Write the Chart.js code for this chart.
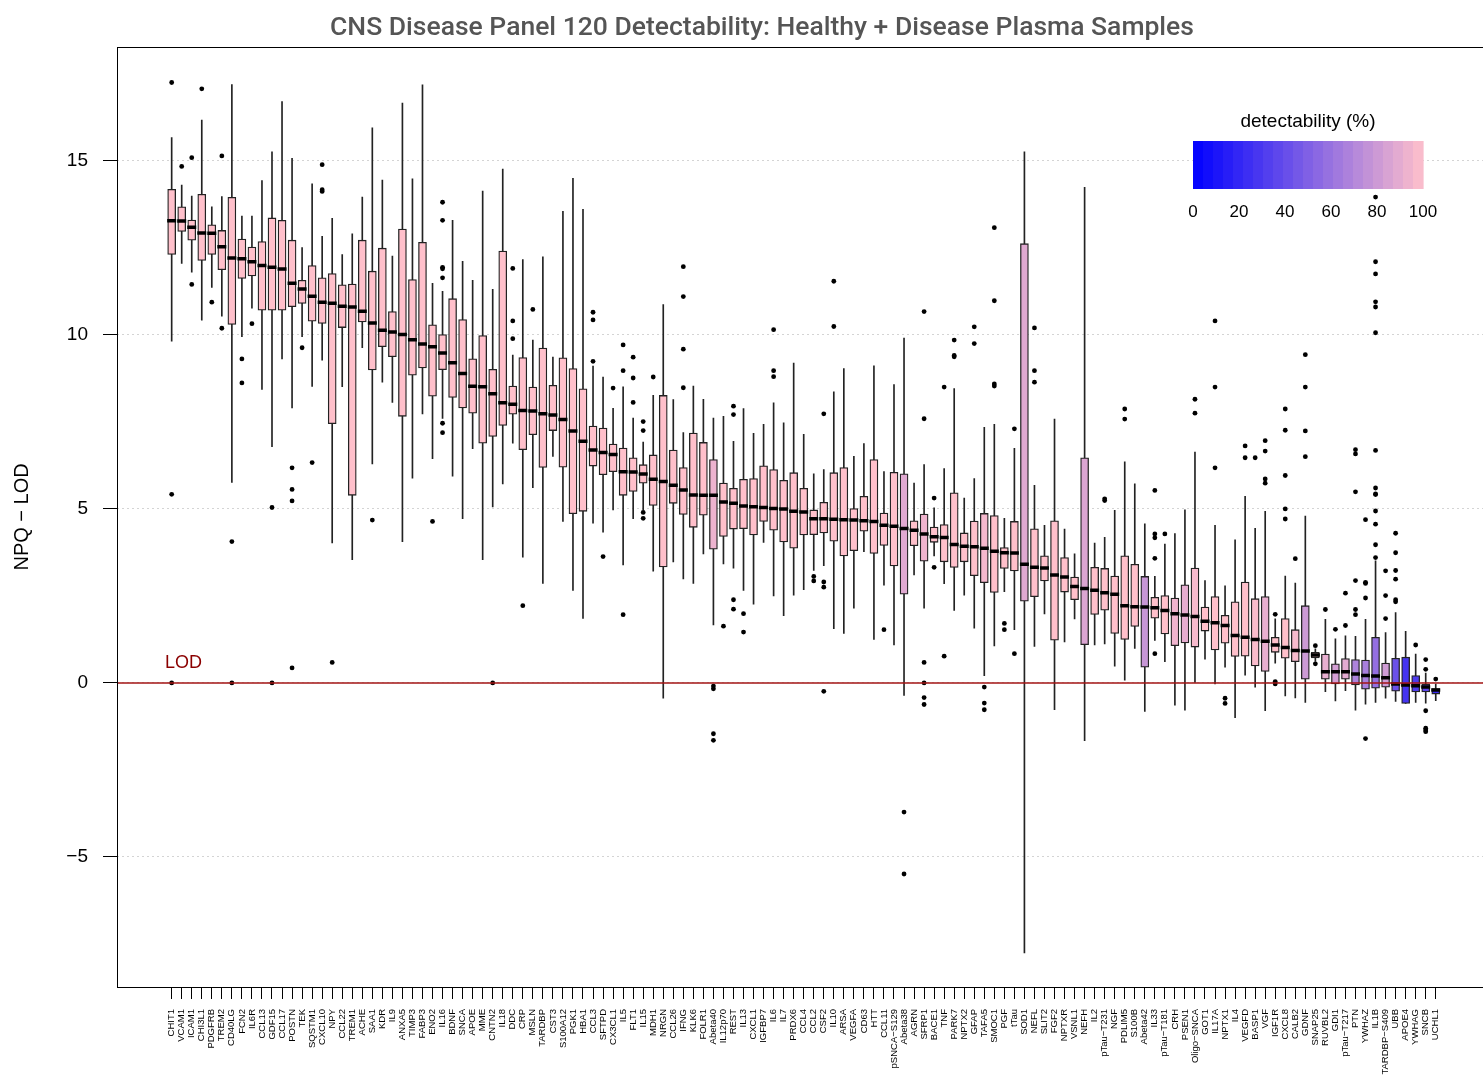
<!DOCTYPE html>
<html>
<head>
<meta charset="utf-8">
<script src="https://cdn.jsdelivr.net/npm/chart.js@4.4.1/dist/chart.umd.min.js"></script>
<style>
  html, body { margin: 0; padding: 0; background: #fff; overflow: hidden; }
</style>
</head>
<body>
<canvas id="cns-chart" width="1524" height="1076"></canvas>
<script>
// panel targets, in plot order (sorted by median)
var categories = [
  'CHIT1','VCAM1','ICAM1','CHI3L1','PDGFRB','TREM2','CD40LG','FCN2','IL6R','CCL13','GDF15','CCL17','POSTN','TEK','SQSTM1','CXCL10',
  'NPY','CCL22','TREM1','ACHE','SAA1','KDR','IL9','ANXA5','TIMP3','FABP3','ENO2','IL16','BDNF','SNCA','APOE','MME',
  'CNTN2','IL18','DDC','CRP','MSLN','TARDBP','CST3','S100A12','PGK1','HBA1','CCL3','SFTPD','CX3CL1','IL5','FLT1','IL15',
  'MDH1','NRGN','CCL26','IFNG','KLK6','FOLR1','Abeta40','IL12p70','REST','IL13','CXCL1','IGFBP7','IL6','IL7','PRDX6','CCL4',
  'CCL2','CSF2','IL10','ARSA','VEGFA','CD63','HTT','CCL11','pSNCA-S129','Abeta38','AGRN','SFRP1','BACE1','TNF','PARK7','NPTX2',
  'GFAP','TAFA5','SMOC1','PGF','tTau','SOD1','NEFL','SLIT2','FGF2','NPTXR','VSNL1','NEFH','IL2','pTau-T231','NGF','PDLIM5',
  'S100B','Abeta42','IL33','pTau-T181','CRH','PSEN1','Oligo-SNCA','GOT1','IL17A','NPTX1','IL4','VEGFD','BASP1','VGF','IGF1R','CXCL8',
  'CALB2','GDNF','SNAP25','RUVBL2','GDI1','pTau-T217','PTN','YWHAZ','IL1B','TARDBP-S409','UBB','APOE4','YWHAG','SNCB','UCHL1'
];

var whiskerLow = [
  9.82,12.05,11.80,10.42,11.36,10.54,5.76,9.95,10.77,8.43,6.79,9.31,7.90,9.95,8.52,9.27,
  4.02,8.51,3.54,9.63,6.29,8.64,8.06,4.06,5.88,7.73,6.44,7.60,5.94,4.72,6.73,3.54,
  5.06,5.72,6.89,3.61,5.61,2.86,6.51,4.64,2.66,1.85,4.59,4.33,4.97,3.39,4.72,4.97,
  3.21,-0.44,3.48,2.99,2.86,3.71,1.67,3.42,3.30,2.66,2.26,4.04,2.50,1.93,2.52,2.68,
  3.23,3.37,1.56,1.42,2.15,3.77,1.25,2.81,1.09,-0.36,3.10,2.15,3.65,2.85,2.08,2.52,
  1.57,0.21,1.06,2.62,1.53,-7.76,1.05,1.98,-0.77,1.18,1.84,-1.66,1.09,1.12,0.48,0.08,
  0.99,-0.82,1.22,0.61,-0.64,-0.78,0.00,0.68,-0.03,0.45,-1.00,0.22,-0.12,-0.80,0.57,-0.37,
  -0.43,-0.56,0.62,-0.25,-0.52,-0.22,-0.78,-0.61,-0.56,-0.44,-0.53,-0.59,-0.56,-0.58,-0.51
];
var q1 = [
  12.31,12.97,12.72,12.14,12.31,11.87,10.30,11.62,11.69,10.71,10.71,10.71,10.81,10.90,10.39,10.33,
  7.45,10.21,5.39,10.37,8.99,9.66,9.37,7.66,8.84,9.05,8.24,9.00,8.20,7.90,7.75,6.89,
  7.08,7.40,7.72,6.70,7.13,6.19,7.25,6.20,4.86,4.93,6.23,5.98,6.07,5.39,5.50,5.74,
  5.10,3.33,5.16,4.84,4.47,4.82,3.84,4.21,4.42,4.43,4.25,4.64,4.39,4.05,3.87,4.25,
  4.26,4.31,4.07,3.65,3.80,4.36,3.72,3.95,3.36,2.55,3.94,3.50,4.04,3.48,3.32,3.48,
  3.08,2.88,2.60,3.29,3.22,2.35,2.48,2.93,1.23,2.61,2.39,1.10,1.97,2.09,1.42,1.25,
  1.62,0.45,1.86,1.41,1.07,1.15,1.03,1.49,0.95,1.14,0.76,0.77,0.49,0.33,0.88,0.71,
  0.61,0.11,0.72,0.11,-0.03,0.11,-0.06,-0.18,-0.15,-0.12,-0.24,-0.59,-0.26,-0.26,-0.32
];
var median = [
  13.28,13.27,13.09,12.93,12.92,12.53,12.21,12.19,12.10,11.99,11.94,11.89,11.48,11.32,11.11,10.94,
  10.91,10.82,10.80,10.68,10.34,10.13,10.08,10.01,9.86,9.74,9.66,9.48,9.20,8.89,8.52,8.51,
  8.31,8.05,8.01,7.83,7.81,7.73,7.70,7.57,7.24,6.94,6.69,6.62,6.56,6.07,6.06,6.00,
  5.85,5.79,5.68,5.54,5.40,5.39,5.39,5.20,5.16,5.08,5.06,5.04,5.01,5.00,4.93,4.91,
  4.72,4.72,4.70,4.69,4.68,4.66,4.64,4.53,4.50,4.44,4.39,4.28,4.20,4.18,3.98,3.93,
  3.91,3.87,3.78,3.74,3.73,3.41,3.32,3.30,3.10,3.04,2.77,2.71,2.66,2.59,2.55,2.22,
  2.19,2.18,2.16,2.08,1.99,1.95,1.91,1.77,1.73,1.65,1.36,1.31,1.25,1.20,1.09,1.02,
  0.93,0.92,0.80,0.32,0.32,0.32,0.26,0.21,0.20,0.15,-0.03,-0.06,-0.08,-0.12,-0.20
];
var q3 = [
  14.18,13.68,13.30,14.04,13.16,13.00,13.95,12.75,12.52,12.68,13.36,13.29,12.72,11.57,11.99,11.64,
  11.76,11.44,11.46,12.72,11.83,12.49,10.67,13.04,11.59,12.66,10.29,10.01,11.04,10.44,9.31,9.98,
  9.01,12.41,8.53,9.35,8.50,9.62,8.55,9.34,9.03,8.45,7.38,7.32,6.86,6.75,6.47,6.27,
  6.55,8.26,6.69,6.19,7.18,6.91,6.42,5.74,5.59,5.85,5.87,6.24,6.13,5.82,6.04,5.59,
  4.97,5.19,6.04,6.19,5.01,5.36,6.42,4.88,6.05,6.01,4.66,4.85,4.48,4.55,5.46,4.31,
  4.65,4.87,4.81,3.89,4.64,12.62,4.43,3.65,4.66,3.60,3.04,6.47,3.32,3.29,3.07,3.65,
  3.41,3.06,2.46,2.51,2.44,2.82,3.30,2.18,2.48,1.94,2.33,2.90,2.42,2.48,1.31,1.85,
  1.53,2.22,0.88,0.83,0.55,0.70,0.67,0.66,1.31,0.57,0.71,0.74,0.21,-0.03,-0.16
];
var whiskerHigh = [
  15.67,14.30,13.99,16.17,13.68,13.97,17.19,13.41,13.41,14.43,15.26,16.70,15.07,12.51,14.34,12.83,
  13.35,12.31,12.90,13.96,15.95,14.45,12.26,16.66,14.48,17.18,11.48,11.25,13.29,12.11,11.57,14.13,
  11.31,14.76,9.42,12.16,9.85,12.24,9.36,13.55,14.50,13.61,9.10,8.79,7.89,8.51,7.61,6.92,
  8.26,10.87,8.14,7.19,8.53,8.15,7.61,7.66,6.94,7.88,7.17,7.43,8.05,7.47,9.19,7.14,
  6.01,6.13,8.36,9.03,6.51,6.88,9.11,6.07,8.57,9.91,5.74,6.27,5.03,6.16,8.46,5.31,
  5.87,7.34,7.43,4.73,6.74,15.26,5.68,4.53,7.58,4.42,3.71,14.24,4.02,4.18,4.96,6.35,
  5.72,4.57,3.06,3.99,4.29,4.97,6.63,2.94,4.53,2.79,4.11,5.36,4.44,4.93,1.84,3.07,
  2.87,4.79,0.98,1.83,1.27,1.35,1.34,1.83,3.51,1.45,2.02,1.48,0.83,0.28,-0.03
];

// share of samples above LOD (%)
var detectability = [
  100,100,100,100,100,100,100,100,100,100,100,100,100,100,100,100,
  100,100,100,100,100,100,100,100,100,100,100,100,100,100,100,100,
  100,100,100,100,100,100,100,100,100,100,100,100,100,100,100,100,
  100,100,100,100,100,100,93,100,100,100,100,100,100,100,100,100,
  100,100,100,100,100,100,100,100,100,88,100,94,100,100,100,100,
  100,96,100,100,100,88,100,100,100,100,100,86,100,100,100,100,
  100,78,100,100,94,90,97,100,100,100,100,100,98,91,100,100,
  97,80,100,91,83,89,68,66,58,81,42,27,31,36,22
];

var outliers = [
  [17.25,5.42,0],[14.84],[15.09,11.45],[17.07],[10.94],[15.14,10.19],[4.06,0],[9.31,8.62],[10.32],[],[5.04,0],[],[6.18,5.56,5.23,0.43],[9.63],[6.33],[14.89,14.17,14.12],
  [0.59],[],[],[],[4.68],[],[],[],[],[],[4.64],[13.81,13.29,11.94,11.90,11.64,7.46,7.19],[],[],[],[],
  [0],[],[11.91,10.40,9.89],[2.22],[10.73],[],[],[],[],[],[10.65,10.43,9.24],[3.63],[8.47],[9.71,8.97,1.96],[9.36,8.76,8.06],[7.51,7.25,4.90,4.73],
  [8.79],[],[],[11.96,11.10,9.59,8.48],[],[],[-0.09,-0.17,-1.46,-1.65],[1.63],[7.95,7.71,2.39,2.12],[1.99,1.46],[],[],[10.15,8.97,8.80],[],[],[],
  [3.06,2.93],[7.73,2.90,2.75,-0.24],[11.54,10.24],[],[],[],[],[1.53],[],[-3.71,-5.49],[],[10.67,7.59,0.59,0,-0.42,-0.62],[5.31,3.32],[8.50,0.77],[9.85,9.41,9.37],[],
  [10.23,9.75],[-0.12,-0.58,-0.77],[13.08,10.98,8.59,8.53],[1.71,1.53],[7.30,0.84],[],[10.20,8.97,8.64],[],[],[],[],[],[],[5.29,5.24],[],[7.87,7.58],
  [],[],[5.53,4.28,4.17,3.58,0.84],[4.28],[],[],[8.15,7.75],[],[10.40,8.50,6.18],[-0.44,-0.59],[],[6.81,6.47],[6.47],[6.96,6.66,5.86,5.74],[1.97,0.04,-0.03],[7.87,7.26,5.96,5.00,4.71],
  [3.57],[9.43,8.50,7.24,6.50],[1.07,0.55],[2.11],[1.54],[2.58,1.65],[6.70,6.58,5.49,2.94,2.11,1.96],[4.69,2.89,2.86,2.44,-1.60],
  [13.96,12.10,11.75,10.95,10.80,10.06,6.68,5.60,5.43,5.41,4.94,4.56,3.97,3.60],[3.22,2.51,1.85],[4.30,3.74,3.23,2.98,2.39,2.33],[],[1.09],[0.67,0.39,-0.80,-1.30,-1.35,-1.40],[0.11]
];

var yTicks = [-5, 0, 5, 10, 15];
var legendTicks = [0, 20, 40, 60, 80, 100];

// blue (0%) -> pink (100%)
function detColor(d) {
  var t = d / 100;
  return 'rgb(' + Math.round(255 * t) + ',' + Math.round(192 * t) + ',' + Math.round(255 - 52 * t) + ')';
}

var whiskerData = categories.map(function (c, i) { return { x: i, y: [whiskerLow[i], whiskerHigh[i]] }; });
var boxData = categories.map(function (c, i) { return { x: i, y: [q1[i], q3[i]] }; });
var medianData = categories.map(function (c, i) { return { x: i, y: median[i] }; });
var outlierData = [];
outliers.forEach(function (list, i) {
  list.forEach(function (v) { outlierData.push({ x: i, y: v }); });
});

var plotFrame = {
  id: 'plotFrame',
  afterDraw: function (chart) {
    var a = chart.chartArea, c = chart.ctx;
    c.save();
    c.strokeStyle = '#000';
    c.lineWidth = 1;
    c.strokeRect(Math.round(a.left) + 0.5, Math.round(a.top) + 0.5, Math.round(a.right - a.left), Math.round(a.bottom - a.top));
    c.restore();
  }
};

var lodLine = {
  id: 'lodLine',
  afterDatasetsDraw: function (chart) {
    var a = chart.chartArea, c = chart.ctx;
    var y = chart.scales.y.getPixelForValue(0);
    c.save();
    c.strokeStyle = '#a31515';
    c.lineWidth = 1.5;
    c.beginPath();
    c.moveTo(a.left, y);
    c.lineTo(a.right, y);
    c.stroke();
    c.fillStyle = '#8b0000';
    c.font = '18px "Liberation Sans", Arial, sans-serif';
    c.textBaseline = 'middle';
    c.fillText('LOD', 165, y - 20);
    c.restore();
  }
};

var detLegend = {
  id: 'detLegend',
  afterDraw: function (chart) {
    var c = chart.ctx;
    var x0 = 1193, x1 = 1423, top = 141, h = 48, steps = 23;
    var w = (x1 - x0) / steps;
    c.save();
    for (var s = 0; s < steps; s++) {
      c.fillStyle = detColor(100 * (s + 0.5) / steps);
      c.fillRect(x0 + s * w, top, w + 0.6, h);
    }
    c.fillStyle = '#000';
    c.textAlign = 'center';
    c.textBaseline = 'middle';
    c.font = '19px "Liberation Sans", Arial, sans-serif';
    c.fillText('detectability (%)', (x0 + x1) / 2, 122);
    c.font = '17px "Liberation Sans", Arial, sans-serif';
    legendTicks.forEach(function (t) {
      c.fillText(String(t), x0 + (x1 - x0) * t / 100, 212);
    });
    c.restore();
  }
};

new Chart(document.getElementById('cns-chart').getContext('2d'), {
  type: 'bar',
  data: {
    datasets: [
      {
        label: 'whiskers',
        data: whiskerData,
        backgroundColor: '#222',
        borderWidth: 0,
        barThickness: 1,
        grouped: false,
        order: 3
      },
      {
        label: 'boxes',
        data: boxData,
        backgroundColor: detectability.map(detColor),
        borderColor: '#222',
        borderWidth: 1.3,
        borderSkipped: false,
        barThickness: 8,
        grouped: false,
        order: 2
      },
      {
        type: 'scatter',
        label: 'median',
        data: medianData,
        pointStyle: 'line',
        pointRadius: 4.5,
        borderWidth: 3.5,
        borderColor: '#000',
        order: 1
      },
      {
        type: 'scatter',
        label: 'outliers',
        data: outlierData,
        pointRadius: 2.4,
        backgroundColor: '#000',
        borderWidth: 0,
        order: 0
      }
    ]
  },
  options: {
    responsive: false,
    animation: false,
    events: [],
    layout: { padding: 0 },
    plugins: {
      legend: { display: false },
      tooltip: { enabled: false },
      title: {
        display: true,
        text: 'CNS Disease Panel 120 Detectability: Healthy + Disease Plasma Samples',
        color: '#555',
        font: { family: 'Roboto', size: 26.5, weight: '500' },
        padding: { top: 12, bottom: 3 }
      }
    },
    scales: {
      x: {
        type: 'linear',
        offset: false,
        min: -5.45,
        max: 134.0,
        afterBuildTicks: function (scale) {
          scale.ticks = categories.map(function (c, i) { return { value: i }; });
        },
        afterFit: function (scale) { scale.height = 89; },
        ticks: {
          autoSkip: false,
          minRotation: 90,
          maxRotation: 90,
          padding: 10,
          color: '#000',
          font: { family: 'Liberation Sans', size: 9.5 },
          callback: function (v) { return (categories[v] || '').replace(/-/g, '\u2212'); }
        },
        grid: { offset: false, drawOnChartArea: false, drawTicks: true, tickLength: 12, tickColor: '#000', color: '#000' },
        border: { display: false }
      },
      y: {
        min: -8.736,
        max: 18.276,
        afterBuildTicks: function (scale) {
          scale.ticks = yTicks.map(function (v) { return { value: v }; });
        },
        afterFit: function (scale) { scale.width = 117; },
        ticks: {
          padding: 15,
          color: '#000',
          font: { family: 'Liberation Sans', size: 19 },
          callback: function (v) { return v < 0 ? '\u2212' + Math.abs(v) : String(v); }
        },
        grid: { color: '#d4d4d4', lineWidth: 1, tickLength: 14, tickColor: '#000' },
        border: { display: false, dash: [2, 3] },
        title: {
          display: true,
          text: 'NPQ \u2212 LOD',
          color: '#000',
          font: { family: 'Liberation Sans', size: 20 },
          padding: { top: 10, bottom: 0 }
        }
      }
    }
  },
  plugins: [plotFrame, lodLine, detLegend]
});
</script>
</body>
</html>
